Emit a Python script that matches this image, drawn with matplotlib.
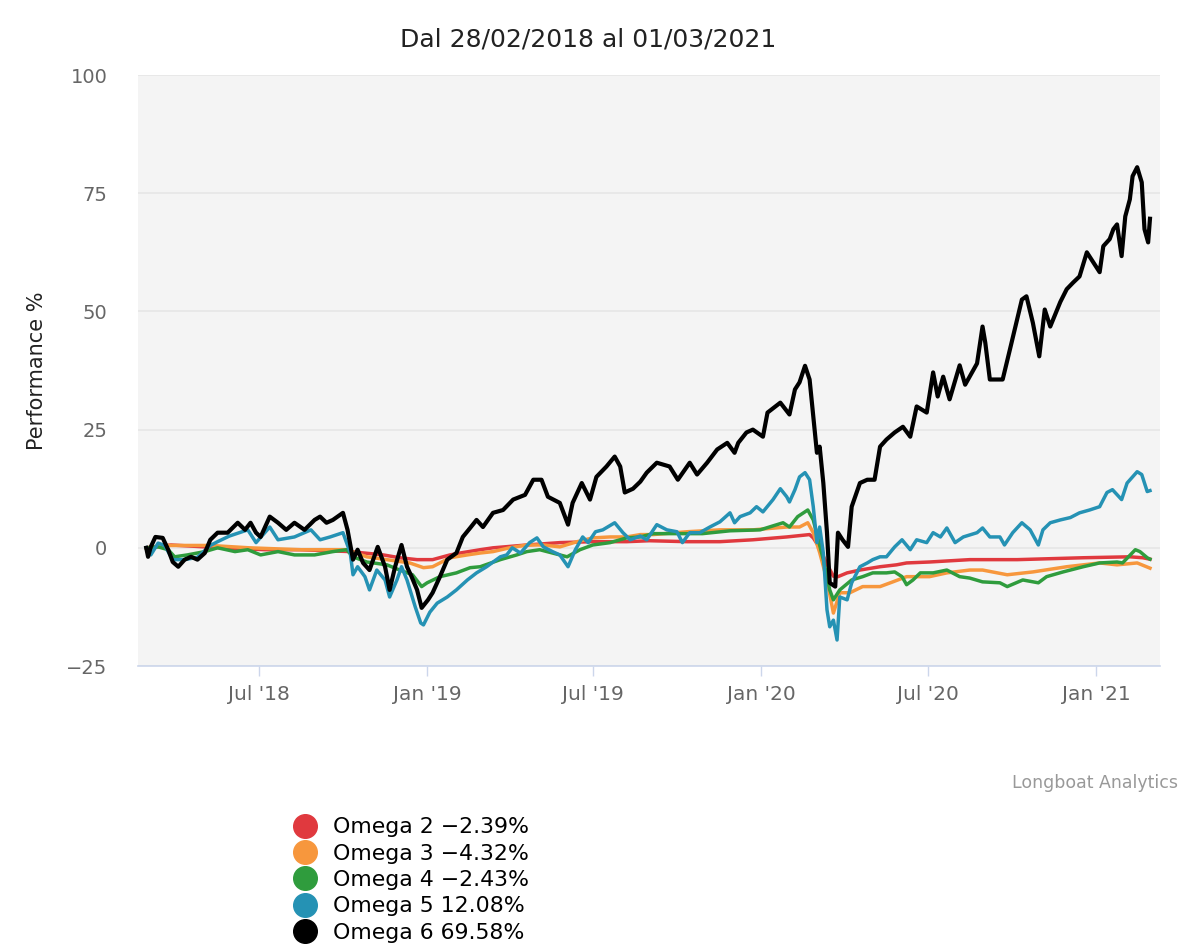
import numpy as np
import pandas as pd
import matplotlib
matplotlib.use('Agg')
import matplotlib.pyplot as plt
from matplotlib.lines import Line2D

inizio = pd.Timestamp('2018-02-28')   # prima data della serie (giorno 0)

# -- Omega 6 --
giorni_o6 = [0,2,5,10,18,24,29,35,42,49,56,64,70,78,89,100,108,114,120,125,
             135,144,153,162,173,184,190,197,204,215,220,226,231,237,244,253,261,266,272,279,
             285,290,296,301,308,313,321,329,339,346,354,361,368,379,390,401,414,423,432,439,
             452,461,466,476,485,492,503,512,518,523,532,540,547,558,572,581,594,602,613,624,
             635,643,647,656,663,674,679,693,703,709,714,720,725,729,733,736,740,744,747,753,
             756,761,767,771,780,788,796,802,809,818,827,835,842,853,860,865,871,878,889,895,
             908,914,917,922,936,944,957,962,969,976,982,988,999,1006,1013,1020,1028,1035,1042,1046,
             1053,1057,1061,1066,1070,1075,1078,1083,1088,1091,1095,1097]
perf_o6 = [0.0,-1.9,0.2,2.3,2.1,-0.4,-3.0,-4.0,-2.5,-1.9,-2.5,-1.1,1.7,3.2,3.2,5.3,3.8,5.3,3.2,2.3,
           6.6,5.3,3.8,5.3,3.8,5.9,6.6,5.3,5.9,7.4,3.8,-2.5,-0.4,-3.2,-4.7,0.2,-4.0,-8.9,-4.0,0.6,
           -4.0,-6.1,-8.9,-12.7,-11.0,-9.5,-6.1,-2.5,-1.1,2.3,4.2,5.9,4.4,7.4,8.0,10.2,11.2,14.4,14.4,10.8,
           9.5,4.9,9.5,13.7,10.2,15.0,17.2,19.3,17.2,11.7,12.5,14.0,15.9,18.0,17.2,14.4,18.0,15.5,18.0,20.8,
           22.2,20.1,22.2,24.4,25.0,23.5,28.6,30.7,28.2,33.5,35.0,38.5,35.6,27.8,20.1,21.4,13.7,3.2,-7.4,-8.2,
           3.2,1.7,0.2,8.7,13.7,14.4,14.4,21.4,22.9,24.4,25.6,23.5,29.9,28.6,37.1,32.0,36.2,31.4,38.6,34.5,
           39.0,46.8,43.4,35.6,35.6,42.0,52.5,53.2,47.6,40.5,50.4,46.8,52.0,54.7,56.1,57.4,62.5,60.4,58.3,63.8,
           65.3,67.4,68.4,61.7,70.1,73.7,78.6,80.5,77.3,67.4,64.6,69.6]

# -- Omega 5 --
giorni_o5 = [0,5,13,20,29,42,56,70,78,91,111,120,135,144,162,180,190,201,215,223,
             226,231,239,244,252,261,266,274,279,285,294,300,303,310,318,329,339,351,361,372,
             387,394,400,409,419,427,434,444,452,461,469,477,483,491,499,512,521,529,540,547,
             558,569,580,586,594,605,616,627,638,643,649,660,667,674,685,693,700,703,709,714,
             720,725,729,733,736,740,744,747,751,755,758,766,771,780,788,794,802,809,818,826,
             835,842,853,860,868,875,884,893,908,914,922,933,938,947,957,966,975,980,988,999,
             1010,1020,1031,1042,1050,1056,1066,1072,1083,1088,1094,1097]
perf_o5 = [0,-1.5,1.0,0.5,-2.5,-2.5,-2.0,0.5,1.3,2.5,3.8,1.1,4.4,1.7,2.3,3.8,1.7,2.3,3.2,-1.1,
           -5.7,-4.0,-6.1,-8.9,-4.7,-6.8,-10.4,-6.8,-4.0,-6.8,-12.5,-15.9,-16.3,-13.6,-11.7,-10.4,-8.9,-6.8,-5.3,-4.0,
           -1.9,-1.5,0.0,-1.1,1.1,2.1,0.2,-0.8,-1.5,-4.0,-0.4,2.3,1.1,3.4,3.8,5.3,3.2,1.7,2.5,1.7,
           4.9,3.8,3.4,1.1,3.2,3.2,4.4,5.5,7.4,5.3,6.6,7.4,8.7,7.6,10.2,12.5,10.8,9.7,12.3,15.0,
           15.9,14.4,8.7,1.1,4.4,-1.1,-13.1,-16.7,-15.3,-19.5,-10.4,-11.0,-7.4,-4.0,-3.2,-2.5,-1.9,-1.9,0.2,1.7,
           -0.4,1.7,1.1,3.2,2.3,4.2,1.1,2.3,3.2,4.2,2.3,2.3,0.6,3.2,5.3,3.8,0.6,3.8,5.3,5.9,
           6.4,7.4,8.0,8.7,11.7,12.3,10.2,13.7,16.1,15.5,11.9,12.1]

# -- Omega 4 --
giorni_o4 = [0,13,24,31,45,64,78,97,111,125,144,162,184,204,219,226,241,263,277,291,
             301,307,321,339,354,365,387,405,416,430,444,460,474,488,507,525,540,554,583,608,
             638,671,696,703,712,723,729,740,747,751,758,771,783,794,809,818,826,831,838,846,
             860,875,889,900,914,933,941,958,975,984,1002,1024,1042,1061,1067,1081,1086,1094,1097]
perf_o4 = [0,0.2,-0.4,-1.9,-1.5,-0.8,0.0,-0.8,-0.4,-1.5,-0.8,-1.5,-1.5,-0.8,-0.4,-1.9,-3.0,-3.6,-4.7,-5.7,
           -8.2,-7.4,-6.1,-5.3,-4.2,-4.0,-2.5,-1.5,-0.8,-0.4,-1.1,-1.9,-0.4,0.6,1.1,2.1,2.3,3.0,3.0,3.0,
           3.6,3.8,5.3,4.4,6.6,8.0,5.9,-2.5,-8.9,-11.0,-8.9,-6.8,-6.1,-5.3,-5.3,-5.1,-6.1,-7.8,-6.8,-5.3,
           -5.3,-4.7,-6.1,-6.4,-7.2,-7.4,-8.2,-6.8,-7.4,-6.1,-5.1,-4.0,-3.2,-3.0,-3.2,-0.4,-0.8,-2.1,-2.4]

# -- Omega 3 --
giorni_o3 = [0,20,70,113,168,219,241,263,288,303,313,332,351,365,379,397,416,434,452,471,
             488,507,525,540,554,591,627,663,700,714,723,729,736,744,751,758,769,783,802,816,
             831,856,875,900,914,941,969,1006,1042,1061,1083,1097]
perf_o3 = [0,0.5,0.5,0.0,-0.4,-0.4,-1.9,-2.5,-3.2,-4.2,-4.0,-2.1,-1.5,-1.1,-0.8,0.0,0.6,0.6,0.2,1.3,
           2.1,2.3,2.3,2.8,2.8,3.4,3.8,3.8,4.4,4.4,5.3,3.2,-1.0,-6.8,-13.8,-9.5,-9.5,-8.2,-8.2,-7.2,
           -6.1,-6.1,-5.3,-4.7,-4.7,-5.7,-5.1,-4.0,-3.2,-3.6,-3.2,-4.3]

# -- Omega 2 --
giorni_o2 = [0,15,27,64,82,130,168,223,259,277,296,313,332,343,365,379,416,452,488,525,
             550,591,627,663,700,725,729,736,744,751,756,766,780,802,820,831,856,900,952,1024,
             1075,1089,1097]
perf_o2 = [0,0.3,0.6,0.2,0.0,-0.4,-0.4,-0.8,-1.5,-2.1,-2.5,-2.5,-1.5,-1.1,-0.4,0.0,0.6,1.1,1.3,1.3,
           1.5,1.3,1.3,1.7,2.3,2.8,2.1,0.0,-3.5,-6.0,-6.1,-5.3,-4.7,-4.0,-3.6,-3.2,-3.0,-2.5,-2.5,-2.1,
           -1.9,-2.1,-2.4]

nomi = ['Omega 2 \u22122.39%', 'Omega 3 \u22124.32%', 'Omega 4 \u22122.43%',
        'Omega 5 12.08%', 'Omega 6 69.58%']
colori = ['#e0393e', '#f7973d', '#2f9c3d', '#2592b4', '#000000']
serie = [(giorni_o2, perf_o2), (giorni_o3, perf_o3), (giorni_o4, perf_o4),
         (giorni_o5, perf_o5), (giorni_o6, perf_o6)]

tick_date = ['2018-07-01', '2019-01-01', '2019-07-01', '2020-01-01', '2020-07-01', '2021-01-01']
tick_nomi = ["Jul '18", "Jan '19", "Jul '19", "Jan '20", "Jul '20", "Jan '21"]
y_tick = [-25, 0, 25, 50, 75, 100]

plt.rcParams['font.family'] = ['DejaVu Sans']
fig = plt.figure(figsize=(12, 9.52), dpi=100)
ax = fig.add_axes([0.115, 0.3004, 0.8517, 0.6208])
ax.set_facecolor('#f4f4f4')

for (g, v), c in zip(serie, colori):
    date = inizio + pd.to_timedelta(g, unit='D')
    lw = 3.0 if c == '#000000' else 2.5
    ax.plot(date, v, color=c, linewidth=lw, solid_joinstyle='round', zorder=3)

ax.set_ylim(-25, 100)
ax.set_yticks(y_tick)
ax.set_yticklabels([str(t).replace('-', '\u2212') for t in y_tick])
ax.set_xlim(pd.Timestamp('2018-02-19'), pd.Timestamp('2021-03-12'))
ax.set_xticks(pd.to_datetime(tick_date))
ax.set_xticklabels(tick_nomi)

ax.grid(axis='y', color='#e6e6e6', linewidth=1.2, zorder=1)
ax.set_axisbelow(True)
for s in ['top', 'right', 'left']:
    ax.spines[s].set_visible(False)
ax.spines['bottom'].set_color('#ccd6eb')
ax.spines['bottom'].set_linewidth(1.2)
ax.tick_params(axis='y', length=0, pad=22, labelsize=14, labelcolor='#666666')
ax.tick_params(axis='x', length=7.5, width=1, color='#ccd6eb', pad=6, labelsize=14.5,
               labelcolor='#666666')

ax.set_ylabel('Performance %', fontsize=15, color='#222222', labelpad=14)
fig.text(0.49, 0.958, 'Dal 28/02/2018 al 01/03/2021', ha='center', va='center',
         fontsize=18, color='#222222')
fig.text(0.982, 0.177, 'Longboat Analytics', ha='right', va='center',
         fontsize=12.5, color='#999999')

maniglie = [Line2D([], [], linestyle='none', marker='o', markersize=17, color=c) for c in colori]
fig.legend(maniglie, nomi, loc='upper left', bbox_to_anchor=(0.244, 0.1415), frameon=False,
           fontsize=15.8, handlelength=1.1, handletextpad=0.72, labelspacing=0.29,
           borderpad=0, borderaxespad=0)

fig.savefig('out.png', dpi=100)
